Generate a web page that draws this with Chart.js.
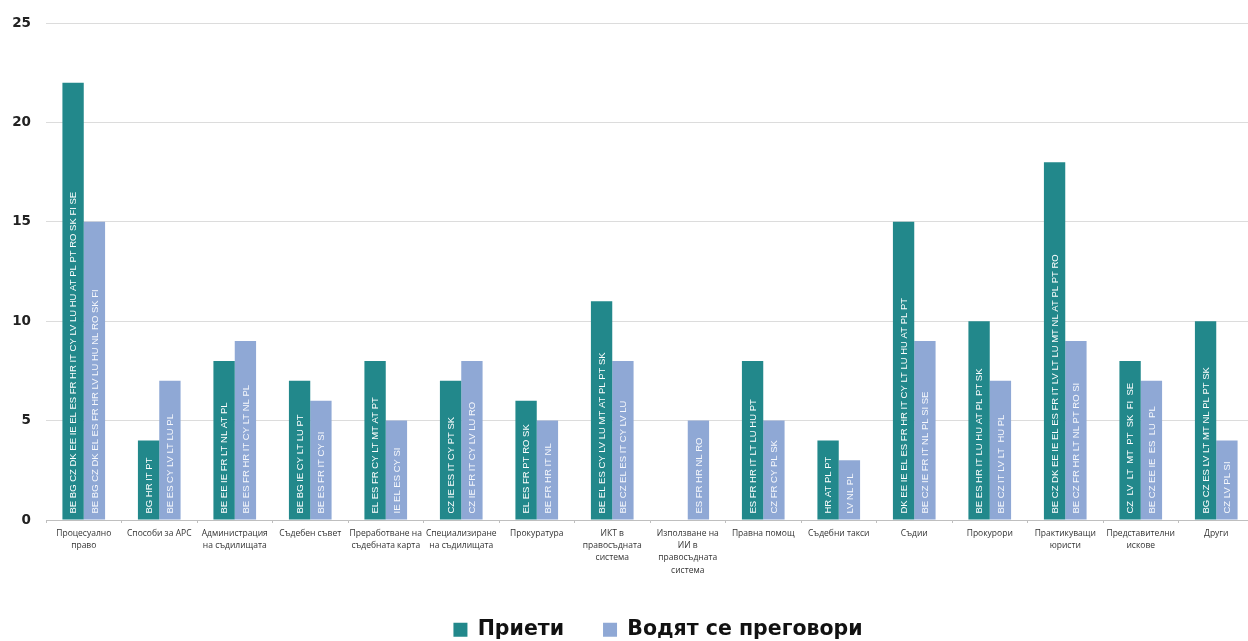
<!DOCTYPE html>
<html>
<head>
<meta charset="utf-8">
<script src="https://cdn.jsdelivr.net/npm/chart.js@4/dist/chart.umd.min.js"></script>
<style>
  html, body { margin: 0; padding: 0; background: #fff; overflow: hidden; }
  #frame { position: relative; width: 1248px; height: 641px; overflow: hidden; }
  #box { position: absolute; left: 0; top: 0; width: 1254px; height: 650px; }
</style>
</head>
<body>
<div id="frame"><div id="box"><canvas id="c"></canvas></div></div>
<script>
// Reform areas (x axis)
const categories = [
  ["Процесуално", "право"],
  "Способи за АРС",
  ["Администрация", "на съдилищата"],
  "Съдебен съвет",
  ["Преработване на", "съдебната карта"],
  ["Специализиране", "на съдилищата"],
  "Прокуратура",
  ["ИКТ в", "правосъдната", "система"],
  ["Използване на", "ИИ в", "правосъдната", "система"],
  "Правна помощ",
  "Съдебни такси",
  "Съдии",
  "Прокурори",
  ["Практикуващи", "юристи"],
  ["Представителни", "искове"],
  "Други"
];

// Number of Member States per area
const adopted     = [22, 4, 8, 7, 8, 7, 6, 11, null, 8, 4, 15, 10, 18, 8, 10];
const negotiating = [15, 7, 9, 6, 5, 8, 5, 8, 5, 5, 3, 9, 7, 9, 7, 4];

// Country codes written inside each bar
const adoptedCountries = [
  "BE BG CZ DK EE IE EL ES FR HR IT CY LV LU HU AT PL PT RO SK FI SE",
  "BG HR IT PT",
  "BE EE IE FR LT NL AT PL",
  "BE BG IE CY LT LU PT",
  "EL ES FR CY LT MT AT PT",
  "CZ IE ES IT CY PT SK",
  "EL ES FR PT RO SK",
  "BE EL ES CY LV LU MT AT PL PT SK",
  "",
  "ES FR HR IT LT LU HU PT",
  "HR AT PL PT",
  "DK EE IE EL ES FR HR IT CY LT LU HU AT PL PT",
  "BE ES HR IT LU HU AT PL PT SK",
  "BE CZ DK EE IE EL ES FR IT LV LT LU MT NL AT PL PT RO",
  "CZ  LV  LT  MT  PT  SK  FI  SE",
  "BG CZ ES LV LT MT NL PL PT SK"
];
const negotiatingCountries = [
  "BE BG CZ DK EL ES FR HR LV LU HU NL RO SK FI",
  "BE ES CY LV LT LU PL",
  "BE ES FR HR IT CY LT NL PL",
  "BE ES FR IT CY SI",
  "IE EL ES CY SI",
  "CZ IE FR IT CY LV LU RO",
  "BE FR HR IT NL",
  "BE CZ EL ES IT CY LV LU",
  "ES FR HR NL RO",
  "CZ FR CY PL SK",
  "LV NL PL",
  "BE CZ IE FR IT NL PL SI SE",
  "BE CZ IT LV LT  HU PL",
  "BE CZ FR HR LT NL PT RO SI",
  "BE CZ EE IE  ES  LU  PL",
  "CZ LV PL SI"
];

const seriesNames = ["Приети", "Водят се преговори"];
const TEAL = "#22888B";
const BLUE = "#8FA8D5";
const LEGEND_SHIFT = 8; // nudges the legend row slightly right of the plot centre

// Writes the country list vertically inside each bar, from the base upwards
const barCountryLabels = {
  id: "barCountryLabels",
  afterDatasetsDraw(chart) {
    const ctx = chart.ctx;
    const lists = [adoptedCountries, negotiatingCountries];
    chart.data.datasets.forEach((ds, di) => {
      const meta = chart.getDatasetMeta(di);
      meta.data.forEach((bar, i) => {
        const txt = lists[di][i];
        if (!txt || ds.data[i] == null) return;
        const p = bar.getProps(["x", "base"], true);
        ctx.save();
        ctx.translate(p.x, p.base - 6);
        ctx.rotate(-Math.PI / 2);
        ctx.font = '9.5px "Liberation Sans", Arial, sans-serif';
        ctx.fillStyle = di === 0 ? "#ffffff" : "rgba(255,255,255,0.92)";
        ctx.textAlign = "left";
        ctx.textBaseline = "middle";
        ctx.fillText(txt, 0, 0.5);
        ctx.restore();
      });
    });
  }
};

const legendNudge = {
  id: "legendNudge",
  afterLayout(chart) {
    if (chart.legend) {
      chart.legend.left += LEGEND_SHIFT;
      chart.legend.right += LEGEND_SHIFT;
    }
  }
};

new Chart(document.getElementById("c"), {
  type: "bar",
  data: {
    labels: categories,
    datasets: [
      { label: seriesNames[0], data: adopted, backgroundColor: TEAL, borderWidth: 0,
        categoryPercentage: 0.565, barPercentage: 1.0 },
      { label: seriesNames[1], data: negotiating, backgroundColor: BLUE, borderWidth: 0,
        categoryPercentage: 0.565, barPercentage: 1.0 }
    ]
  },
  options: {
    responsive: true,
    maintainAspectRatio: false,
    animation: false,
    layout: { padding: { top: 21, left: 0, right: 0, bottom: 0 } },
    scales: {
      x: {
        afterFit(scale) { scale.height = 60.5; },
        grid: { display: true, drawOnChartArea: false, drawTicks: true, tickLength: 3, color: "#bfbfbf", offset: true },
        border: { display: true, color: "#bfbfbf" },
        ticks: {
          autoSkip: false, maxRotation: 0, minRotation: 0, padding: 4,
          color: "#333333",
          font: { family: '"Open Sans", sans-serif', size: 8.5, lineHeight: 1.46 }
        }
      },
      y: {
        min: 0, max: 25,
        afterFit(scale) { scale.width = 46; },
        grid: { color: "#dcdcdc", drawTicks: false },
        border: { display: false },
        ticks: {
          stepSize: 5, padding: 15, color: "#222222",
          font: { family: '"DejaVu Sans", sans-serif', size: 13.5, weight: "bold" }
        }
      }
    },
    plugins: {
      tooltip: { enabled: false },
      legend: {
        position: "bottom",
        fullSize: false,
        labels: {
          boxWidth: 14, boxHeight: 14, padding: 39,
          color: "#111111",
          font: { family: '"DejaVu Sans", sans-serif', size: 20.5, weight: "bold" }
        }
      }
    }
  },
  plugins: [barCountryLabels, legendNudge]
});
</script>
</body>
</html>
